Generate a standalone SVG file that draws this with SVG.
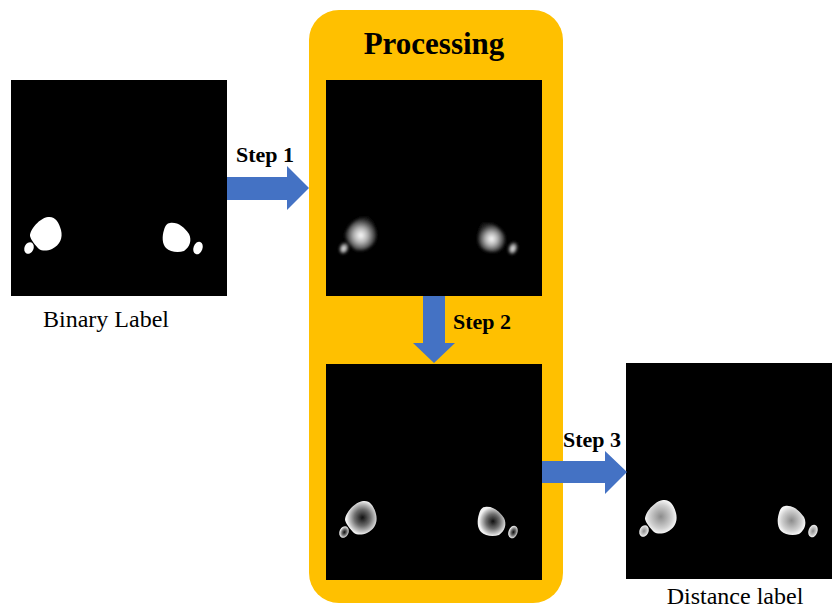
<svg xmlns="http://www.w3.org/2000/svg" xmlns:xlink="http://www.w3.org/1999/xlink" width="832" height="610" viewBox="0 0 832 610">
<style>
.img{fill:#000}
.arrow{fill:#4472C4}
.step{font-family:"Liberation Serif","Times New Roman",serif;font-weight:bold;font-size:22px;fill:#000}
.cap{font-family:"Liberation Serif","Times New Roman",serif;font-size:24px;fill:#000;text-anchor:middle}
.title{font-family:"Liberation Serif","Times New Roman",serif;font-weight:bold;font-size:31px;fill:#000;text-anchor:middle}
</style>
<defs>
<g id="blobs">
<path d="M48,217 C55,216 59,222 61,230 C63,238 60,245 52,249 C47,251 42,251 39,249 C35,245 31,240 30,236 C30,229 40,218 48,217 Z"/>
<ellipse cx="29" cy="248" rx="4.5" ry="6" transform="rotate(25 29 248)"/>
<path d="M170,223 C178,222 184,227 189,234 C192,240 190,247 184,251 C178,253 170,252 166,248 C162,244 162,236 164,230 C165,226 167,223 170,223 Z"/>
<ellipse cx="198" cy="248" rx="4.5" ry="6.5" transform="rotate(20 198 248)"/>
</g>
<radialGradient id="glow" cx="0.5" cy="0.55" r="0.5">
<stop offset="0" stop-color="#ffffff"/>
<stop offset="0.45" stop-color="#b0b0b0"/>
<stop offset="1" stop-color="#1a1a1a"/>
</radialGradient>
<radialGradient id="ring" cx="0.55" cy="0.5" r="0.5">
<stop offset="0" stop-color="#111111"/>
<stop offset="0.5" stop-color="#6e6e6e"/>
<stop offset="0.85" stop-color="#c8c8c8"/>
<stop offset="1" stop-color="#f2f2f2"/>
</radialGradient>
<radialGradient id="dist" cx="0.5" cy="0.5" r="0.5">
<stop offset="0" stop-color="#8c8c8c"/>
<stop offset="0.7" stop-color="#cfcfcf"/>
<stop offset="1" stop-color="#f5f5f5"/>
</radialGradient>
<filter id="blur" x="-0.3" y="-0.3" width="1.6" height="1.6">
<feGaussianBlur stdDeviation="1.5"/>
</filter>
<filter id="soft" x="-0.2" y="-0.2" width="1.4" height="1.4">
<feGaussianBlur stdDeviation="0.6"/>
</filter>
</defs>
<rect width="832" height="610" fill="#fff"/>

<g id="processing">
<rect x="309" y="10" width="254" height="593" rx="30" ry="30" fill="#FFC000"/>
<text class="title" x="434" y="54">Processing</text>
</g>

<g id="binary-label">
<rect class="img" x="11" y="80" width="216" height="216"/>
<use xlink:href="#blobs" href="#blobs" fill="#fff" filter="url(#soft)"/>
<text class="cap" x="106" y="327">Binary Label</text>
</g>

<g id="step1-output">
<rect class="img" x="326" y="80" width="216" height="216"/>
<use xlink:href="#blobs" href="#blobs" transform="translate(315 0)" fill="url(#glow)" filter="url(#blur)"/>
</g>

<g id="step2-output">
<rect class="img" x="326" y="364" width="216" height="216"/>
<use xlink:href="#blobs" href="#blobs" transform="translate(315 284)" fill="url(#ring)" filter="url(#soft)"/>
</g>

<g id="distance-label">
<rect class="img" x="626" y="363" width="216" height="216"/>
<use xlink:href="#blobs" href="#blobs" transform="translate(615 283)" fill="url(#dist)" filter="url(#soft)"/>
<text class="cap" x="735" y="604">Distance label</text>
</g>

<g id="connectors">
<polygon class="arrow" points="227,177 287,177 287,166 309,188 287,210 287,200 227,200"/>
<text class="step" x="236" y="162">Step 1</text>
<polygon class="arrow" points="423,296 445,296 445,343 455,343 434,363 413,343 423,343"/>
<text class="step" x="453" y="329">Step 2</text>
<polygon class="arrow" points="542,461 605,461 605,451 627,472 605,494 605,483 542,483"/>
<text class="step" x="563" y="447">Step 3</text>
</g>
</svg>
